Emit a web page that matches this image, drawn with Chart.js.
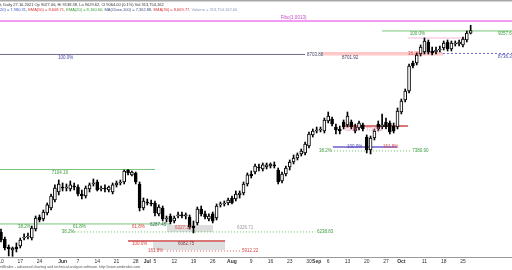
<!DOCTYPE html>
<html>
<head>
<meta charset="utf-8">
<script src="https://cdn.jsdelivr.net/npm/chart.js@4.4.0/dist/chart.umd.min.js"></script>
<style>html,body{margin:0;padding:0;background:#fff}canvas{display:block}</style>
</head>
<body>
<canvas id="chart" width="512" height="270"></canvas>
<script>
// daily bars, 10 May 2021 .. 27 Oct 2021 (index 0 = 10 May)
const opens = [6223,6124,6011,5969,6011,6025,6138,6152,6138,6265,6434,6406,6491,6561,6674,6787,6857,6843,6829,6871,
  6857,6759,6730,6829,6900,6928,6829,6843,6815,6787,6886,6914,6928,7097,7027,7055,6900,6561,6646,6632,
  6632,6477,6561,6406,6448,6378,6448,6463,6448,6434,6307,6350,6547,6477,6406,6477,6420,6604,6618,6632,
  6702,6688,6745,6773,6900,7041,7069,7139,7111,7139,7153,7168,7097,6942,7041,7139,7210,7266,7323,7337,
  7435,7591,7647,7661,7647,7788,7816,7703,7675,7774,7732,7774,7703,7689,7732,7562,7379,7548,7746,7703,
  7774,7760,7717,7703,7915,8084,8211,8606,8606,8733,8761,8902,8775,8761,8789,8817,8902,8803,8874,8874,
  8860,8930,9027];
const highs = [6265,6152,6040,6011,6068,6138,6195,6209,6307,6448,6463,6533,6632,6759,6886,6956,6914,6900,6942,6914,
  6886,6815,6871,6914,6970,6956,6871,6886,6871,6914,6942,6956,7097,7104,7083,7069,6928,6702,6688,6674,
  6660,6604,6589,6448,6477,6448,6505,6505,6491,6463,6378,6575,6589,6519,6477,6505,6618,6646,6660,6702,
  6730,6801,6801,6928,7055,7083,7182,7182,7196,7196,7196,7210,7125,7069,7153,7238,7309,7337,7393,7492,
  7633,7675,7703,7703,7830,7915,7844,7746,7717,7802,7915,7802,7746,7788,7760,7591,7576,7675,7788,7887,
  7830,7788,7760,7971,8098,8239,8592,8634,8747,8860,8958,8930,8831,8831,8845,8916,8930,8916,8916,8930,
  8972,9057,9138];
const lows = [6082,5969,5885,5880,5941,5997,6110,6124,6110,6237,6364,6378,6463,6533,6646,6745,6801,6801,6801,6815,
  6730,6688,6702,6787,6871,6801,6801,6787,6787,6759,6857,6886,6900,7027,7012,6900,6519,6533,6604,6589,
  6448,6448,6378,6364,6336,6350,6420,6420,6406,6265,6209,6322,6448,6406,6378,6350,6392,6575,6589,6604,
  6618,6660,6702,6745,6871,6984,7041,7083,7083,7111,7125,7125,6900,6914,7012,7097,7182,7238,7294,7309,
  7407,7562,7619,7633,7619,7760,7717,7605,7605,7675,7703,7675,7619,7661,7647,7337,7323,7520,7647,7675,
  7675,7605,7619,7675,7887,8056,8183,8535,8578,8704,8733,8733,8719,8733,8761,8789,8775,8775,8845,8845,
  8831,8902,9015];
const closes = [6110,5997,5983,5997,5983,6110,6152,6166,6279,6420,6392,6505,6604,6730,6843,6900,6843,6857,6886,6857,
  6759,6730,6843,6886,6914,6815,6843,6829,6857,6886,6914,6928,7083,7055,7069,6928,6561,6660,6632,6618,
  6491,6575,6406,6420,6364,6420,6463,6448,6463,6293,6279,6547,6477,6434,6448,6378,6589,6618,6632,6674,
  6632,6759,6773,6900,7027,7012,7153,7125,7168,7168,7182,7153,6928,7041,7125,7210,7266,7309,7365,7464,
  7605,7647,7661,7675,7802,7858,7746,7661,7647,7703,7858,7703,7647,7760,7675,7379,7548,7647,7675,7732,
  7703,7633,7647,7929,8070,8211,8563,8563,8719,8831,8916,8761,8747,8789,8803,8888,8803,8888,8888,8902,
  8944,9029,9064];

const tickBars = [0,5,10,16,20,25,30,35,38,40,45,50,55,60,65,70,75,80,82,85,90,95,100,104,110,115,120];
const tickText = ['10','17','24','Jun','7','14','21','28','Jul','5','12','19','26','Aug','9','16','23','30','Sep','6','13','20','27','Oct','11','18','25'];
const monthNames = ['Jun','Jul','Aug','Sep','Oct'];

const XMIN = -0.26, XMAX = 132.74;

// study lines: [from bar, to bar, price, style]
const levels = [
  [XMIN, XMAX, 9198, 'magenta'],
  [99, XMAX, 9057.6, 'green'],
  [105.7, 121, 8958, 'pink'],
  [XMIN, 79, 8726, 'slate'],
  [114.8, XMAX, 8740, 'blueDot'],
  [88.8, 105.7, 7717, 'red'],
  [86.2, 102.9, 7421, 'purple'],
  [85.7, 106.5, 7365, 'greenDot'],
  [XMIN, 40, 7104.19, 'green'],
  [XMIN, 43.9, 6336, 'green'],
  [18.4, 81.6, 6223, 'greenDot'],
  [33, 58.2, 6096, 'red'],
  [43.1, 62.1, 5955, 'redDot']
];
// shaded zones: [from bar, to bar, top, bottom, colour]
const zones = [
  [83.6, 114.8, 8761, 8712, '#ffc8c8'],
  [43.1, 55.1, 6322, 6223, '#dedede'],
  [39.5, 58.2, 6082, 5969, '#dedede']
];
// text on the study lines: [text, bar, price, style, place]
const notes = [
  ['Fibo(1.0013)', 72.7, 9198, 'magenta', 'above'],
  ['100.0%', 106.2, 9057.6, 'green', 'below'],
  ['9057.6', 129.1, 9057.6, 'green', 'below'],
  ['100.0%', 14.8, 8726, 'blue', 'below'],
  ['8703.88', 79.5, 8726, 'slate', 'mid'],
  ['8701.92', 88.6, 8726, 'slate', 'below'],
  ['38.2%', 105.7, 8736, 'red', 'mid'],
  ['8736.3', 129.1, 8740, 'blue', 'below'],
  ['61.8%', 89.4, 7717, 'pink', 'below'],
  ['7717.62', 94.8, 7717, 'pink', 'below'],
  ['100.0%', 89.9, 7421, 'blue', 'mid'],
  ['161.8%', 99.2, 7421, 'red', 'mid'],
  ['38.2%', 82.6, 7365, 'green', 'mid'],
  ['7380.90', 106.8, 7365, 'green', 'mid'],
  ['7104.19', 13.2, 7104.19, 'green', 'below'],
  ['38.2%', 4.4, 6336, 'green', 'below'],
  ['61.8%', 18.7, 6336, 'green', 'below'],
  ['61.8%', 34, 6336, 'red', 'below'],
  ['6287.45', 38.7, 6320, 'darkGreen', 'mid'],
  ['6327.11', 45.2, 6286, 'red', 'mid'],
  ['6326.71', 61.3, 6286, 'gray', 'mid'],
  ['38.2%', 15.8, 6223, 'green', 'mid'],
  ['6238.83', 82.1, 6223, 'green', 'mid'],
  ['100.0%', 34, 6096, 'red', 'below'],
  ['6082.75', 46, 6061, 'darkRed', 'mid'],
  ['161.8%', 38.2, 5955, 'red', 'mid'],
  ['5912.22', 62.6, 5955, 'red', 'mid']
];

const lineStyles = {
  magenta: {borderColor: '#f39af3', borderWidth: 2},
  green: {borderColor: '#79c479', borderWidth: 1},
  pink: {borderColor: '#f4b8d8', borderWidth: 1},
  slate: {borderColor: '#6d6d8d', borderWidth: 1},
  blueDot: {borderColor: '#6a6ad8', borderWidth: 1, borderDash: [2, 2]},
  red: {borderColor: '#cc4a4a', borderWidth: 1.5},
  purple: {borderColor: '#6a5ccc', borderWidth: 1.5},
  greenDot: {borderColor: '#66b866', borderWidth: 1, borderDash: [1, 2]},
  redDot: {borderColor: '#e05050', borderWidth: 1, borderDash: [1, 2]}
};
const textColors = {
  magenta: '#c048c0', green: '#3c9c3c', darkGreen: '#2f6f4f', blue: '#4646a8',
  slate: '#444466', red: '#d84848', pink: '#e88aa8', gray: '#9a9a9a', darkRed: '#8a3a3a'
};

const header1 = 't, Daily 27.10.2021 Op 9027.06, Hi 9138.38, Lo 9029.62, Cl 9064.00 (0.1%) Vol 313,754,162';
const header2 = [
  ['20) = 7,980.31, ', '#3a58c8'],
  ['EMA(50) = 8,608.71, ', '#d83030'],
  ['EMA(20) = 8,160.60, ', '#30a030'],
  ['MA(Close,100) = 7,362.88, ', '#3f4f80'],
  ['EMA(30) = 8,669.77, ', '#d83030'],
  ['Volume = 313,754,162.00', '#8898b8']
];
const footer = 'AmiBroker - advanced charting and technical analysis software. http://www.amibroker.com';

const bars = closes.map((c, i) => i);

const datasets = [];
zones.forEach(([a, b, top, bottom, col]) => {
  datasets.push({
    type: 'line', data: [{x: a, y: top}, {x: b, y: top}],
    borderWidth: 0, pointRadius: 0, backgroundColor: col,
    fill: {value: bottom}, order: 4
  });
});
levels.forEach(([a, b, p, s]) => {
  datasets.push(Object.assign({
    type: 'line', data: [{x: a, y: p}, {x: b, y: p}],
    pointRadius: 0, fill: false, order: 3
  }, lineStyles[s]));
});
datasets.push({
  type: 'bar', data: bars.map(i => ({x: i, y: [lows[i], highs[i]]})),
  backgroundColor: '#000', barThickness: 1, grouped: false, order: 2
});
datasets.push({
  type: 'bar', data: bars.map(i => ({x: i, y: [opens[i], closes[i]]})),
  backgroundColor: bars.map(i => closes[i] >= opens[i] ? '#fff' : '#000'),
  borderColor: '#000', borderWidth: 1, borderSkipped: false,
  barThickness: 3, grouped: false, order: 1
});

const FONT = "'Liberation Sans', Arial, sans-serif";

const textPlugin = {
  id: 'texts',
  afterDatasetsDraw(chart) {
    const {ctx, scales: {x, y}} = chart;
    ctx.save();
    ctx.font = '4.5px ' + FONT;
    ctx.textAlign = 'left';
    notes.forEach(([t, bar, p, s, place]) => {
      const px = x.getPixelForValue(bar);
      let py = y.getPixelForValue(p);
      if (place === 'below') { ctx.textBaseline = 'top'; py += 1; }
      else if (place === 'above') { ctx.textBaseline = 'bottom'; py -= 1; }
      else ctx.textBaseline = 'middle';
      ctx.fillStyle = textColors[s];
      ctx.fillText(t, px, py);
    });
    ctx.restore();
  },
  afterDraw(chart) {
    const {ctx, width} = chart;
    ctx.save();
    ctx.strokeStyle = '#a8a8a8';
    ctx.lineWidth = 1.5;
    ctx.beginPath(); ctx.moveTo(0, 0.75); ctx.lineTo(width, 0.75); ctx.stroke();
    ctx.font = '4px ' + FONT;
    ctx.textBaseline = 'middle';
    ctx.textAlign = 'left';
    ctx.fillStyle = '#333';
    ctx.fillText(header1, 0, 4.5);
    let hx = 0;
    header2.forEach(([t, col]) => {
      ctx.fillStyle = col;
      ctx.fillText(t, hx, 10);
      hx += ctx.measureText(t).width;
    });
    ctx.font = '3.6px ' + FONT;
    ctx.fillStyle = '#555';
    ctx.fillText(footer, -3, 267);
    ctx.restore();
  }
};

new Chart(document.getElementById('chart'), {
  type: 'bar',
  data: {datasets},
  options: {
    responsive: false,
    animation: false,
    devicePixelRatio: 1,
    layout: {padding: 0},
    plugins: {legend: {display: false}, tooltip: {enabled: false}},
    scales: {
      x: {
        type: 'linear', min: XMIN, max: XMAX, offset: false,
        grid: {display: false, drawTicks: false},
        border: {display: true, color: '#9a9a9a', width: 1},
        afterBuildTicks: axis => { axis.ticks = tickBars.map(v => ({value: v})); },
        afterFit: scale => { scale.height = 13; scale.paddingLeft = 0; scale.paddingRight = 0; },
        ticks: {
          autoSkip: false, maxRotation: 0, minRotation: 0, padding: 2,
          color: '#333',
          font: c => ({family: FONT, size: 5, weight: monthNames.includes(tickText[c.index]) ? 'bold' : 'normal'}),
          callback: (v, i) => tickText[i]
        }
      },
      y: {type: 'linear', display: false, min: 5870, max: 9494}
    }
  },
  plugins: [textPlugin]
});
</script>
</body>
</html>
